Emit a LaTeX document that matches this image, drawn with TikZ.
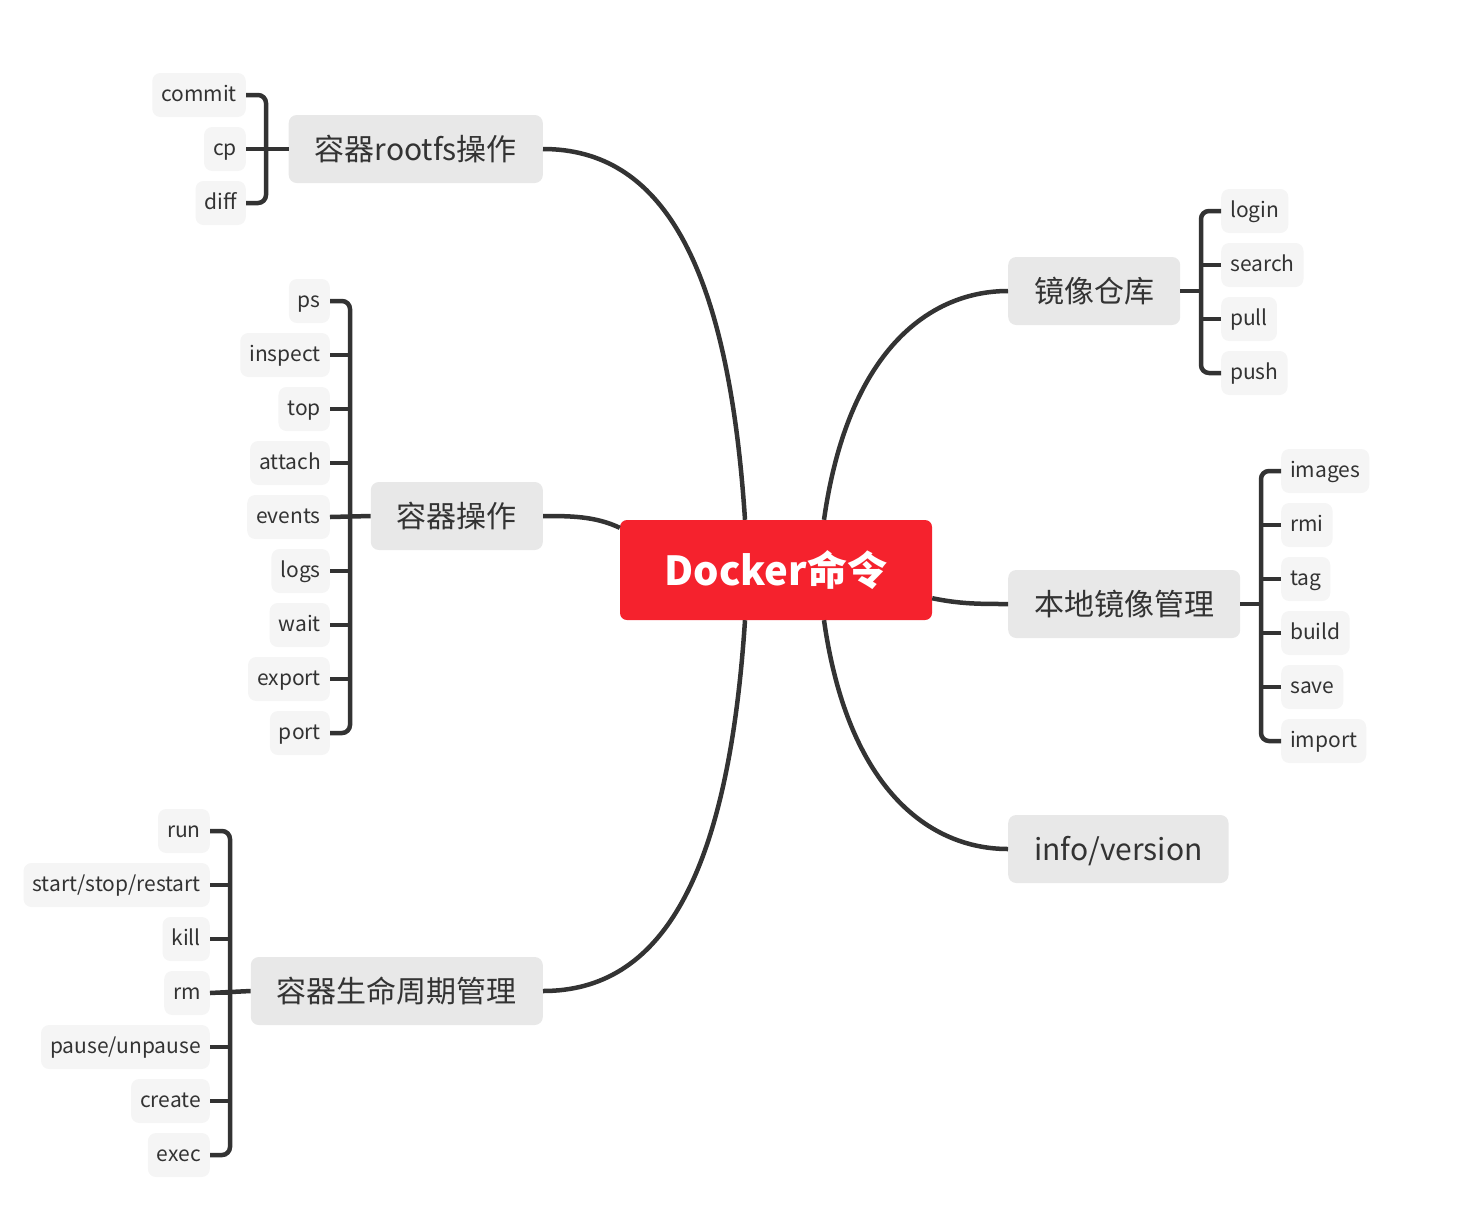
\documentclass[tikz,border=0pt]{standalone}
\usepackage{fontspec}
\setmainfont{Noto Sans CJK SC}
\usepackage{xcolor}
\usetikzlibrary{calc}
\definecolor{rootred}{HTML}{F5222D}
\definecolor{branchgray}{HTML}{E8E8E8}
\definecolor{leafgray}{HTML}{F5F5F5}
\definecolor{inkgray}{HTML}{333333}
\tikzset{
	rootbox/.style={fill=rootred, text=white, rounded corners=7, minimum width=312, minimum height=100, font=\fontsize{40}{48}\selectfont\bfseries},
	branchbox/.style={fill=branchgray, text=inkgray, rounded corners=8, minimum height=68, inner xsep=26, text height=26, text depth=3, font=\fontsize{30}{36}\selectfont},
	leafbox/.style={fill=leafgray, text=inkgray, rounded corners=8, minimum height=44, inner xsep=9, text height=16, text depth=4, font=\fontsize{21}{25}\selectfont},
	link/.style={draw=inkgray, line width=4.5},
	brace/.style={link, rounded corners=8},
}

\begin{document}
\begin{tikzpicture}[x=1pt, y=-1pt]
	\useasboundingbox (0,0) rectangle (1461,1221);

	\def\midL{543};
	\def\midR{1008};

	% centre and branches
	\node[rootbox] (root) at (776,570) {Docker命令};

	\node[branchbox, anchor=east] (rootfs) at (\midL,149) {容器rootfs操作};
	\node[branchbox, anchor=east] (ops) at (\midL,516) {容器操作};
	\node[branchbox, anchor=east] (life) at (\midL,991) {容器生命周期管理};
	\node[branchbox, anchor=west] (repo) at (\midR,291) {镜像仓库};
	\node[branchbox, anchor=west] (local) at (\midR,604) {本地镜像管理};
	\node[branchbox, anchor=west] (info) at (\midR,849) {info/version};

	\begin{scope}[on background layer/.try]
		\draw[link] ($ (root.north) + (-31,0) $) .. controls (728,260) and (660,149) .. (rootfs.east);
		\draw[link] ($ (root.north west) + (0,8) $) .. controls (595,516) and (570,516) .. (ops.east);
		\draw[link] ($ (root.south) + (-31,0) $) .. controls (728,880) and (660,991) .. (life.east);
		\draw[link] ($ (root.north) + (48,0) $) .. controls (848,350) and (930,291) .. (repo.west);
		\draw[link] ($ (root.south east) + (0,-22) $) .. controls (960,604) and (980,604) .. (local.west);
		\draw[link] ($ (root.south) + (48,0) $) .. controls (848,790) and (930,849) .. (info.west);
	\end{scope}

	% leaves
	\foreach \lbl [count=\i] in {commit,cp,diff}
		\node[leafbox, anchor=east] (fs\i) at (246,{41+54*\i}) {\lbl};
	\foreach \lbl [count=\i] in {ps,inspect,top,attach,events,logs,wait,export,port}
		\node[leafbox, anchor=east] (op\i) at (330,{247+54*\i}) {\lbl};
	\foreach \lbl [count=\i] in {run,start/stop/restart,kill,rm,pause/unpause,create,exec}
		\node[leafbox, anchor=east] (lf\i) at (210,{777+54*\i}) {\lbl};
	\foreach \lbl [count=\i] in {login,search,pull,push}
		\node[leafbox, anchor=west] (rp\i) at (1221,{157+54*\i}) {\lbl};
	\foreach \lbl [count=\i] in {images,rmi,tag,build,save,import}
		\node[leafbox, anchor=west] (lc\i) at (1281,{417+54*\i}) {\lbl};

	% brackets
	\draw[brace] (fs1.east) -| (266,149) |- (fs3.east);
	\draw[link] (fs2.east) -- (rootfs.west);

	\draw[brace] (op1.east) -| (350,516) |- (op9.east);
	\foreach \i in {2,...,8}
		\draw[link] (op\i.east) -- ++(20,0);
	\draw[link] (op5.east) -- (ops.west);

	\draw[brace] (lf1.east) -| (230,991) |- (lf7.east);
	\foreach \i in {2,...,6}
		\draw[link] (lf\i.east) -- ++(20,0);
	\draw[link] (lf4.east) -- (life.west);

	\draw[brace] (rp1.west) -| (1201,291) |- (rp4.west);
	\foreach \i in {2,3}
		\draw[link] (rp\i.west) -- ++(-20,0);
	\draw[link] (repo.east) -- (1201,291);

	\draw[brace] (lc1.west) -| (1261,604) |- (lc6.west);
	\foreach \i in {2,...,5}
		\draw[link] (lc\i.west) -- ++(-20,0);
	\draw[link] (local.east) -- (1261,604);
\end{tikzpicture}
\end{document}
